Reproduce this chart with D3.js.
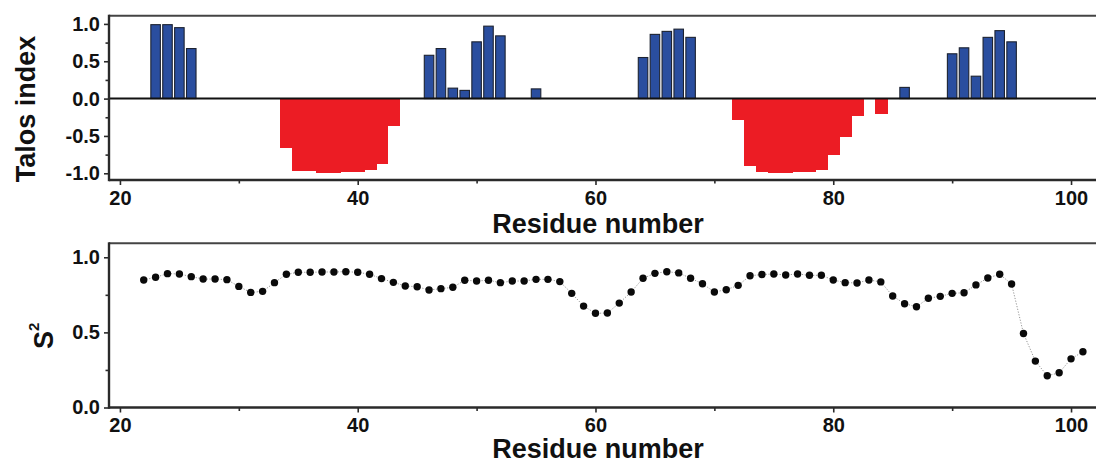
<!DOCTYPE html>
<html>
<head>
<meta charset="utf-8">
<script src="https://cdn.jsdelivr.net/npm/d3@7"></script>
<style>
html,body{margin:0;padding:0;background:#fff;}
svg{display:block;}
text{font-family:"Liberation Sans",Arial,Helvetica,sans-serif;font-weight:bold;fill:#111;}
</style>
</head>
<body>
<svg id="chart" width="1096" height="463"></svg>
<script>
// ---- data ----
const talosResidues = [23,24,25,26,34,35,36,37,38,39,40,41,42,43,46,47,48,49,50,51,52,55,64,65,66,67,68,72,73,74,75,76,77,78,79,80,81,82,84,86,90,91,92,93,94,95];
const talosValues   = [0.99,0.99,0.95,0.67,-0.66,-0.97,-0.97,-0.99,-0.99,-0.98,-0.98,-0.96,-0.87,-0.37,0.58,0.67,0.14,0.11,0.76,0.97,0.84,0.13,0.55,0.86,0.90,0.93,0.82,-0.29,-0.90,-0.98,-0.99,-0.99,-0.98,-0.98,-0.96,-0.76,-0.52,-0.23,-0.21,0.15,0.60,0.68,0.30,0.82,0.91,0.76];

const s2Residues = d3.range(22, 102);
const s2Values = [0.849,0.867,0.891,0.889,0.871,0.855,0.855,0.851,0.806,0.766,
                  0.773,0.831,0.887,0.900,0.900,0.902,0.902,0.904,0.900,0.887,
                  0.858,0.833,0.809,0.804,0.782,0.791,0.800,0.847,0.842,0.847,
                  0.831,0.842,0.842,0.853,0.853,0.838,0.760,0.675,0.627,0.629,
                  0.695,0.769,0.860,0.893,0.904,0.896,0.860,0.824,0.769,0.784,
                  0.813,0.877,0.885,0.889,0.882,0.889,0.880,0.880,0.849,0.831,
                  0.829,0.849,0.836,0.742,0.691,0.671,0.727,0.740,0.760,0.764,
                  0.816,0.862,0.887,0.822,0.493,0.309,0.211,0.231,0.324,0.371];

const xMajorTicks = [20,40,60,80,100];
const xMinorTicks = [30,50,70,90];
const talosMajorTicks = [-1,-0.5,0,0.5,1];
const talosMinorTicks = [-0.75,-0.25,0.25,0.75];
const s2MajorTicks = [0,0.5,1];
const s2MinorTicks = [0.25,0.75];

// ---- layout ----
const svg = d3.select("#chart");
const xLeft = 109, xRight = 1096;
const x = d3.scaleLinear().domain([19.08, 102.1]).range([xLeft, xRight]);

const topPanel = {top: 15.7, bottom: 180};
const botPanel = {top: 243.3, bottom: 407.5};
const yTop = d3.scaleLinear().domain([-1.09, 1.11]).range([topPanel.bottom, topPanel.top]);
const yBot = d3.scaleLinear().domain([0, 1.093]).range([botPanel.bottom, botPanel.top]);

const fmt = d => d.toFixed(1);
const frameColor = "#2a2a2a";

function drawAxes(y, panel, major, minor, xLabel, xPad) {
  const gx = svg.append("g").attr("transform", `translate(0,${panel.bottom})`)
    .call(d3.axisBottom(x).tickValues(xMajorTicks).tickSize(5).tickPadding(xPad).tickFormat(d3.format("d")));
  gx.select(".domain").remove();
  gx.selectAll("line").attr("stroke", frameColor).attr("stroke-width", 1.6);
  gx.selectAll("text").attr("font-size", 20).attr("fill", "#111")
    .attr("font-family", '"Liberation Sans",Arial,sans-serif').attr("font-weight", "bold");
  const gxm = svg.append("g").attr("transform", `translate(0,${panel.bottom})`)
    .call(d3.axisBottom(x).tickValues(xMinorTicks).tickSize(3.5).tickFormat(""));
  gxm.select(".domain").remove();
  gxm.selectAll("line").attr("stroke", frameColor).attr("stroke-width", 1.6);

  const gy = svg.append("g").attr("transform", `translate(${xLeft},0)`)
    .call(d3.axisLeft(y).tickValues(major).tickSize(5).tickPadding(4).tickFormat(fmt));
  gy.select(".domain").remove();
  gy.selectAll("line").attr("stroke", frameColor).attr("stroke-width", 1.6);
  gy.selectAll("text").attr("font-size", 20).attr("fill", "#111")
    .attr("font-family", '"Liberation Sans",Arial,sans-serif').attr("font-weight", "bold");
  const gym = svg.append("g").attr("transform", `translate(${xLeft},0)`)
    .call(d3.axisLeft(y).tickValues(minor).tickSize(3.5).tickFormat(""));
  gym.select(".domain").remove();
  gym.selectAll("line").attr("stroke", frameColor).attr("stroke-width", 1.6);

  svg.append("line").attr("x1", xLeft).attr("x2", xRight).attr("y1", panel.top).attr("y2", panel.top)
    .attr("stroke", "#444").attr("stroke-width", 2);
  svg.append("line").attr("x1", xLeft).attr("x2", xRight).attr("y1", panel.bottom).attr("y2", panel.bottom)
    .attr("stroke", frameColor).attr("stroke-width", 2.4);
  svg.append("line").attr("x1", xLeft).attr("x2", xLeft).attr("y1", panel.top - 1).attr("y2", panel.bottom + 1.2)
    .attr("stroke", frameColor).attr("stroke-width", 2.4);

  svg.append("text").attr("x", 598).attr("y", xLabel)
    .attr("text-anchor", "middle").attr("font-size", 27).text("Residue number");
}

// ---- top panel: Talos index bars ----
const talos = talosResidues.map((r, i) => ({r, v: talosValues[i]}));
const neg = talos.filter(d => d.v < 0);
const pos = talos.filter(d => d.v > 0);

svg.append("g").attr("shape-rendering", "crispEdges").selectAll("rect").data(neg).join("rect")
  .attr("x", d => x(d.r - 0.5))
  .attr("width", d => x(d.r + 0.5) - x(d.r - 0.5) + 1)
  .attr("y", yTop(0))
  .attr("height", d => yTop(d.v) - yTop(0))
  .attr("fill", "#ec1c24");

svg.append("g").selectAll("rect").data(pos).join("rect")
  .attr("x", d => x(d.r - 0.4))
  .attr("width", d => x(d.r + 0.4) - x(d.r - 0.4))
  .attr("y", d => yTop(d.v))
  .attr("height", d => yTop(0) - yTop(d.v))
  .attr("fill", "#2a4e9f")
  .attr("stroke", "#1c2230")
  .attr("stroke-width", 1.1);

svg.append("line").attr("x1", xLeft).attr("x2", xRight)
  .attr("y1", yTop(0)).attr("y2", yTop(0))
  .attr("stroke", "#111").attr("stroke-width", 2);

drawAxes(yTop, topPanel, talosMajorTicks, talosMinorTicks, 233, 6);

svg.append("text")
  .attr("transform", `translate(35,109) rotate(-90)`)
  .attr("text-anchor", "middle").attr("font-size", 27).text("Talos index");

// ---- bottom panel: S2 ----
const s2 = s2Residues.map((r, i) => ({r, v: s2Values[i]}));
svg.append("path").datum(s2)
  .attr("fill", "none").attr("stroke", "#8a8a8a").attr("stroke-width", 0.9)
  .attr("stroke-dasharray", "1.2,1.6")
  .attr("d", d3.line().x(d => x(d.r)).y(d => yBot(d.v)));

svg.append("g").selectAll("circle").data(s2).join("circle")
  .attr("cx", d => x(d.r)).attr("cy", d => yBot(d.v))
  .attr("r", 3.7).attr("fill", "#0a0a0a");

drawAxes(yBot, botPanel, s2MajorTicks, s2MinorTicks, 458, 5);

const s2Label = svg.append("text")
  .attr("transform", `translate(53,349) rotate(-90)`)
  .attr("text-anchor", "start").attr("font-size", 27);
s2Label.append("tspan").text("S");
s2Label.append("tspan").attr("font-size", 15).attr("dy", -14).text("2");
</script>
</body>
</html>
